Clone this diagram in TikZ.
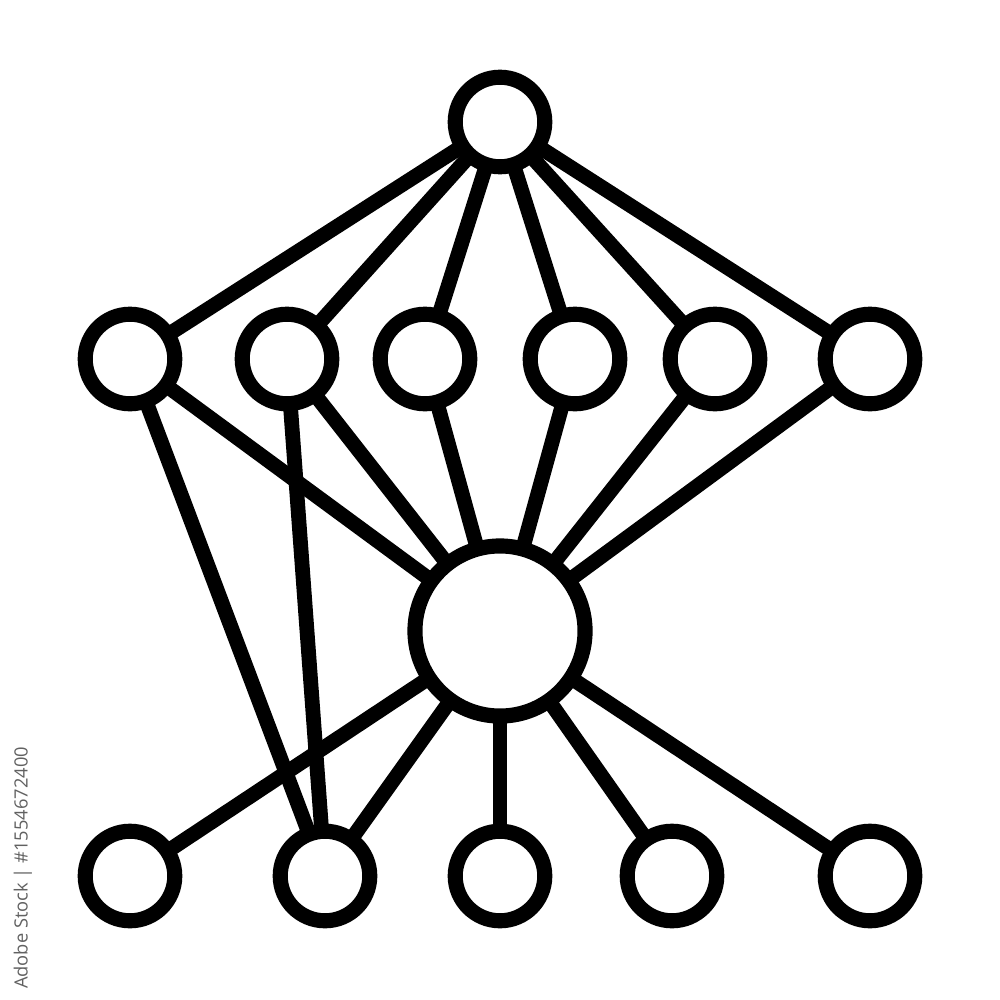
\documentclass[tikz,border=0pt]{standalone}
\usepackage{fontspec}
\newfontfamily\wmfont{Open Sans}
\begin{document}
\begin{tikzpicture}[x=0.01cm,y=-0.01cm,
  edge/.style={line width=4.2pt,black},
  small/.style={circle,draw=black,fill=white,line width=4.3pt,minimum size=0.895cm,inner sep=0pt},
  big/.style={circle,draw=black,fill=white,line width=4.3pt,minimum size=1.70cm,inner sep=0pt},
  wm/.style={text=black!62,font=\wmfont\fontsize{5.2pt}{6pt}\selectfont,rotate=90,inner sep=0pt}]
\useasboundingbox (0,0) rectangle (1000,1000);
% node positions
\coordinate (T) at (500,122);
\coordinate (M1) at (130,359);
\coordinate (M2) at (287,359);
\coordinate (M3) at (425,359);
\coordinate (M4) at (575,359);
\coordinate (M5) at (715,359);
\coordinate (M6) at (870,359);
\coordinate (C) at (500,631);
\coordinate (B1) at (130,876);
\coordinate (B2) at (325,876);
\coordinate (B3) at (500,876);
\coordinate (B4) at (672,876);
\coordinate (B5) at (870,876);
% edges
\foreach \m in {M1,M2,M3,M4,M5,M6} {
  \draw[edge] (T) -- (\m);
  \draw[edge] (\m) -- (C);
}
\draw[edge] (M1) -- (B2);
\draw[edge] (M2) -- (B2);
\foreach \b in {B1,B2,B3,B4,B5} {
  \draw[edge] (C) -- (\b);
}
% nodes
\node[small] (nT) at (T) {};
\foreach \m in {M1,M2,M3,M4,M5,M6} { \node[small] (n\m) at (\m) {}; }
\node[big] (nC) at (C) {};
\foreach \b in {B1,B2,B3,B4,B5} { \node[small] (n\b) at (\b) {}; }
% watermark caption
\node[wm] (wmtext) at (23,868) {Adobe Stock | \#1554672400};
\end{tikzpicture}
\end{document}
